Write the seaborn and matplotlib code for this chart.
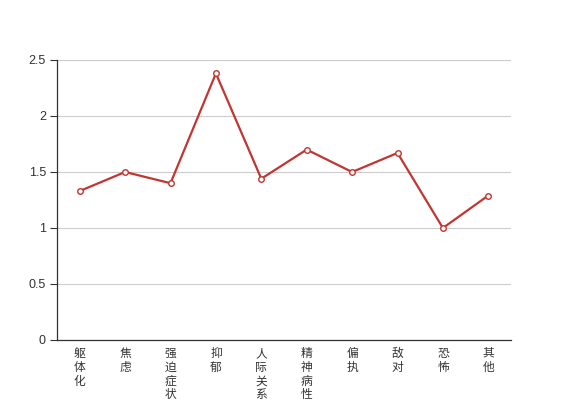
import numpy as np
import pandas as pd
import matplotlib
matplotlib.use('Agg')
import matplotlib.pyplot as plt
import seaborn as sns

# data
categories = ['躯体化', '焦虑', '强迫症状', '抑郁', '人际关系敏感',
              '精神病性', '偏执', '敌对', '恐怖', '其他']
scores = [1.33, 1.50, 1.40, 2.38, 1.44, 1.70, 1.50, 1.67, 1.00, 1.29]
y_ticks = [0, 0.5, 1, 1.5, 2, 2.5]
y_tick_labels = ['0', '0.5', '1', '1.5', '2', '2.5']

sns.set_style('white')
plt.rcParams['font.family'] = ['Noto Sans CJK SC', 'DejaVu Sans']

df = pd.DataFrame({'pos': np.arange(len(categories)), 'score': scores})

fig = plt.figure(figsize=(5.67, 4), dpi=100)
ax = fig.add_axes([57 / 567, 60 / 400, (511 - 57) / 567, 280 / 400])

red = '#c23531'
sns.lineplot(data=df, x='pos', y='score', ax=ax, color=red, linewidth=1.6,
             marker='o', markersize=4, markerfacecolor='white',
             markeredgecolor=red, markeredgewidth=1.0, zorder=3)

ax.set_xlim(-0.5, len(categories) - 0.5)
ax.set_ylim(0, 2.5)
ax.set_yticks(y_ticks)
ax.set_yticklabels(y_tick_labels, fontsize=9, color='#333333',
                   family=['Liberation Sans', 'DejaVu Sans'])
ax.yaxis.grid(True, color='#cccccc', linewidth=0.8)
ax.set_axisbelow(True)

# category labels at centres, tick marks at boundaries
ax.set_xticks(np.arange(len(categories)))
ax.set_xticklabels(['\n'.join(c) for c in categories], fontsize=8.5,
                   color='#333333', linespacing=1.08, va='top')
ax.tick_params(axis='x', which='major', length=0, pad=5)
ax.set_xticks(np.arange(-0.5, len(categories)), minor=True)
ax.tick_params(axis='x', which='minor', length=5, width=0.8, color='#333333',
               direction='out')
ax.tick_params(axis='y', length=5, width=0.8, color='#333333', direction='out',
               left=True, pad=3)

for s in ['top', 'right']:
    ax.spines[s].set_visible(False)
for s in ['left', 'bottom']:
    ax.spines[s].set_color('#333333')
    ax.spines[s].set_linewidth(0.9)

ax.set_xlabel('')
ax.set_ylabel('')

fig.savefig('out.png', dpi=100)
